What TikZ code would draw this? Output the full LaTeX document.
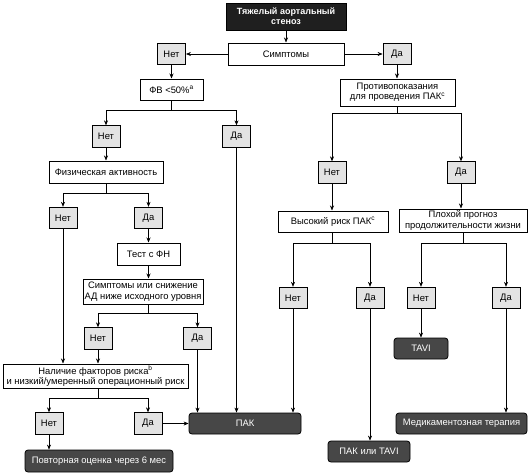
\documentclass[tikz,border=0pt]{standalone}
\usepackage{fontspec}
\setmainfont{Liberation Sans}
\usepackage{tikz}
\usetikzlibrary{arrows.meta}

\begin{document}
\begin{tikzpicture}[
    x=1pt, y=-1pt,
    block/.style={rectangle, draw, line width=1pt, fill=white,
                inner sep=1pt, minimum height=21pt,
                align=center, font=\fontsize{9.4}{10.4}\selectfont},
    choice/.style={rectangle, draw, line width=0.8pt, fill=gray!22,
                inner sep=1pt, minimum width=28pt, minimum height=21.5pt,
                font=\fontsize{9.4}{10.4}\selectfont},
    result/.style={rectangle, draw=black, line width=0.8pt, rounded corners=3pt,
                fill=black!72, text=white, inner sep=1pt, minimum height=21pt,
                align=center, font=\fontsize{9.4}{10.4}\selectfont},
    >={Stealth[length=5pt,width=4pt]}, line width=0.6pt
]
\useasboundingbox (0,0) rectangle (531,474);

% Start and symptoms
\node[block, fill=black!88, text=white, minimum width=120pt, minimum height=27pt,
      font=\fontsize{9}{10}\selectfont\bfseries] (aos) at (286,16.5) {Тяжелый аортальный\\стеноз};
\node[block, minimum width=116pt, minimum height=22pt] (symp) at (286,54) {Симптомы};
\node[choice] (no1) at (171.5,54) {Нет};
\node[choice] (yes1) at (397,54) {Да};

% Left branch
\node[block, minimum width=63pt] (fv) at (171.5,89.5) {ФВ <50\%\textsuperscript{a}};
\node[choice] (no2) at (106,136.5) {Нет};
\node[choice] (yes2) at (236.5,136.5) {Да};
\node[block, minimum width=114pt, minimum height=22pt] (act) at (106,172) {Физическая активность};
\node[choice] (no3) at (63,218) {Нет};
\node[choice] (yes3) at (148.5,218) {Да};
\node[block, minimum width=63pt, minimum height=22pt] (test) at (148.5,254) {Тест с ФН};
\node[block, minimum width=120pt, minimum height=25pt] (symp2) at (143,291.5) {Симптомы или снижение\\АД ниже исходного уровня};
\node[choice] (no4) at (98,338.5) {Нет};
\node[choice] (yes4) at (197.5,338.5) {Да};
\node[block, minimum width=185pt, minimum height=24pt] (risk) at (95.5,376) {Наличие факторов риска\textsuperscript{b}\\и низкий/умеренный операционный риск};
\node[choice] (no5) at (49,423.5) {Нет};
\node[choice] (yes5) at (148,423.5) {Да};
\node[result, minimum width=112pt] (pak) at (245,423.5) {ПАК};
\node[result, minimum width=148pt, minimum height=22pt] (reval) at (99,461) {Повторная оценка через 6 мес};

% Right branch
\node[block, minimum width=115pt, minimum height=27pt] (contra) at (397.5,92.5) {Противопоказания\\для проведения ПАК\textsuperscript{c}};
\node[choice] (no6) at (332,172.5) {Нет};
\node[choice] (yes6) at (461,172.5) {Да};
\node[block, minimum width=110pt] (high) at (333,221.5) {Высокий риск ПАК\textsuperscript{c}};
\node[block, minimum width=128pt, minimum height=23pt] (poor) at (463,220.5) {Плохой прогноз\\продолжительности жизни};
\node[choice] (no7) at (293,298) {Нет};
\node[choice] (yes7) at (370,298) {Да};
\node[choice] (no8) at (421,298) {Нет};
\node[choice] (yes8) at (506,298) {Да};
\node[result, minimum width=54pt] (tavi) at (421,348.5) {TAVI};
\node[result, minimum width=82pt] (paktavi) at (369,451.5) {ПАК или TAVI};
\node[result, minimum width=131pt] (drug) at (461.5,423.5) {Медикаментозная терапия};

\draw[->] (aos) -- (symp);
\draw[->] (symp) -- (no1);
\draw[->] (symp) -- (yes1);

\draw[->] (no1) -- (fv);
\draw[->] (fv.south) -- ++(0,10) -| (no2);
\draw[->] (fv.south) -- ++(0,10) -| (yes2);
\draw[->] (no2) -- (act);
\draw[->] (act.south) -- ++(0,10) -| (no3);
\draw[->] (act.south) -- ++(0,10) -| (yes3);
\draw[->] (yes3) -- (test);
\draw[->] (test.south) -- (test.south |- symp2.north);
\draw[->] (test.south |- symp2.south) -- ++(0,9) -| (no4);
\draw[->] (test.south |- symp2.south) -- ++(0,9) -| (yes4);
\draw[->] (no3) -- (no3 |- risk.north);
\draw[->] (no4) -- (no4 |- risk.north);
\draw[->] (no4 |- risk.south) -- ++(0,10) -| (no5);
\draw[->] (no4 |- risk.south) -- ++(0,10) -| (yes5);
\draw[->] (no5) -- (no5 |- reval.north);
\draw[->] (yes5) -- (pak);
\draw[->] (yes4) -- (yes4 |- pak.north);
\draw[->] (yes2) -- (yes2 |- pak.north);

\draw[->] (yes1) -- (yes1 |- contra.north);
\draw[->] (yes1 |- contra.south) -- ++(0,7) -| (no6);
\draw[->] (yes1 |- contra.south) -- ++(0,7) -| (yes6);
\draw[->] (no6) -- (no6 |- high.north);
\draw[->] (yes6) -- (yes6 |- poor.north);
\draw[->] (no6 |- high.south) -- ++(0,11) -| (no7);
\draw[->] (no6 |- high.south) -- ++(0,11) -| (yes7);
\draw[->] (poor.south) -- ++(0,11) -| (no8);
\draw[->] (poor.south) -- ++(0,11) -| (yes8);
\draw[->] (no7) -- (no7 |- pak.north);
\draw[->] (yes7) -- (yes7 |- paktavi.north);
\draw[->] (no8) -- (tavi);
\draw[->] (yes8) -- (yes8 |- drug.north);
\end{tikzpicture}
\end{document}
